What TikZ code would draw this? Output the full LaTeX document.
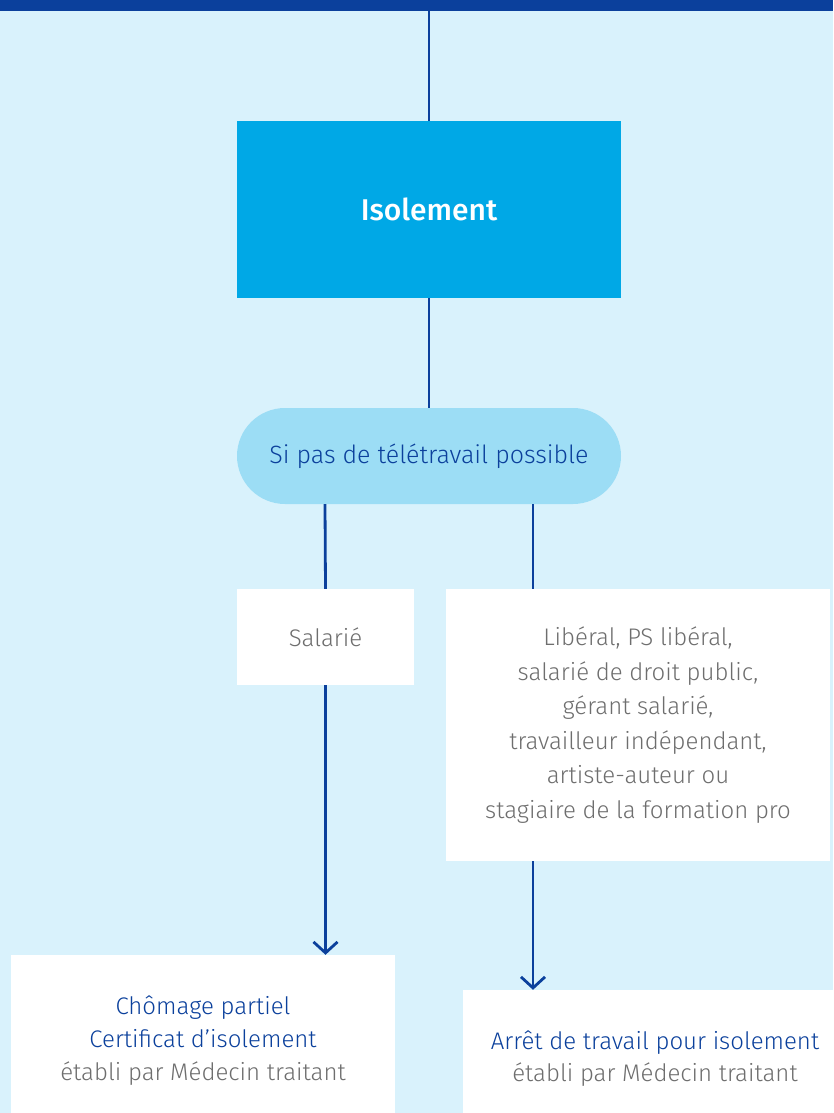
\documentclass[tikz,border=0pt]{standalone}
\usepackage{fontspec}
\setmainfont{Fira Sans Light}[BoldFont={Fira Sans Medium}]
\usetikzlibrary{arrows.meta}
\definecolor{navy}{HTML}{0B409C}
\definecolor{bgblue}{HTML}{D9F2FC}
\definecolor{cyanbox}{HTML}{00A8E6}
\definecolor{pillblue}{HTML}{9CDDF5}
\definecolor{greytext}{HTML}{6E6E6E}

\begin{document}
\begin{tikzpicture}[x=1pt,y=-1pt,
    link/.style={draw=navy,line width=2.8pt},
    arr/.style={link,-{Straight Barb[length=11pt,width=24pt]}},
    box/.style={fill=white,inner sep=0pt,minimum width=384pt,align=center,font=\fontsize{24}{34.5}\selectfont},
    mainbox/.style={fill=cyanbox,text=white,minimum width=384pt,minimum height=177pt,font=\fontsize{30}{34}\selectfont\bfseries},
    pill/.style={fill=pillblue,text=navy,rounded corners=48pt,minimum width=384pt,minimum height=96pt,font=\fontsize{25}{30}\selectfont}]
      \useasboundingbox (0,0) rectangle (833,1113);
      \fill[bgblue] (0,0) rectangle (833,1113);
      \fill[navy] (0,0) rectangle (833,11);
      \coordinate (bar) at (429,11);

      \draw (429,209.5) node[mainbox] (iso) {Isolement};
      \draw (429,456) node[pill] (cond) {Si pas de télétravail possible};

      \draw (325.5,637) node[box,text=greytext,minimum width=177pt,minimum height=96pt] (sal) {Salarié};
      \draw (638,725) node[box,text=greytext,minimum height=272pt] (lib) {Libéral, PS libéral,\\salarié de droit public,\\gérant salarié,\\travailleur indépendant,\\artiste-auteur ou\\stagiaire de la formation pro};

      % bottom boxes run off the page
      \draw (203,1041) node[box,minimum height=172pt,font=\fontsize{24}{33}\selectfont] (chom) {\textcolor{navy}{Chômage partiel}\\\textcolor{navy}{Certificat d’isolement}\\\textcolor{greytext}{établi par Médecin traitant}};
      \draw (655,1058.5) node[box,minimum height=137pt,font=\fontsize{24}{32}\selectfont] (arret) {\textcolor{navy}{Arrêt de travail pour isolement}\\\textcolor{greytext}{établi par Médecin traitant}};

      \draw[link] (bar) -- (iso.north);
      \draw[link] (iso.south) -- (cond.north);
      \draw[link] ([xshift=-104pt]cond.south) -- (sal.north);
      \draw[link] ([xshift=104pt]cond.south) -- ([xshift=-105pt]lib.north);

      \draw[arr] (sal.south) -- (sal.south |- chom.north);
      \draw[arr] ([xshift=-105pt]lib.south) -- ([xshift=-105pt]lib.south |- arret.north);
    \end{tikzpicture}
\end{document}
